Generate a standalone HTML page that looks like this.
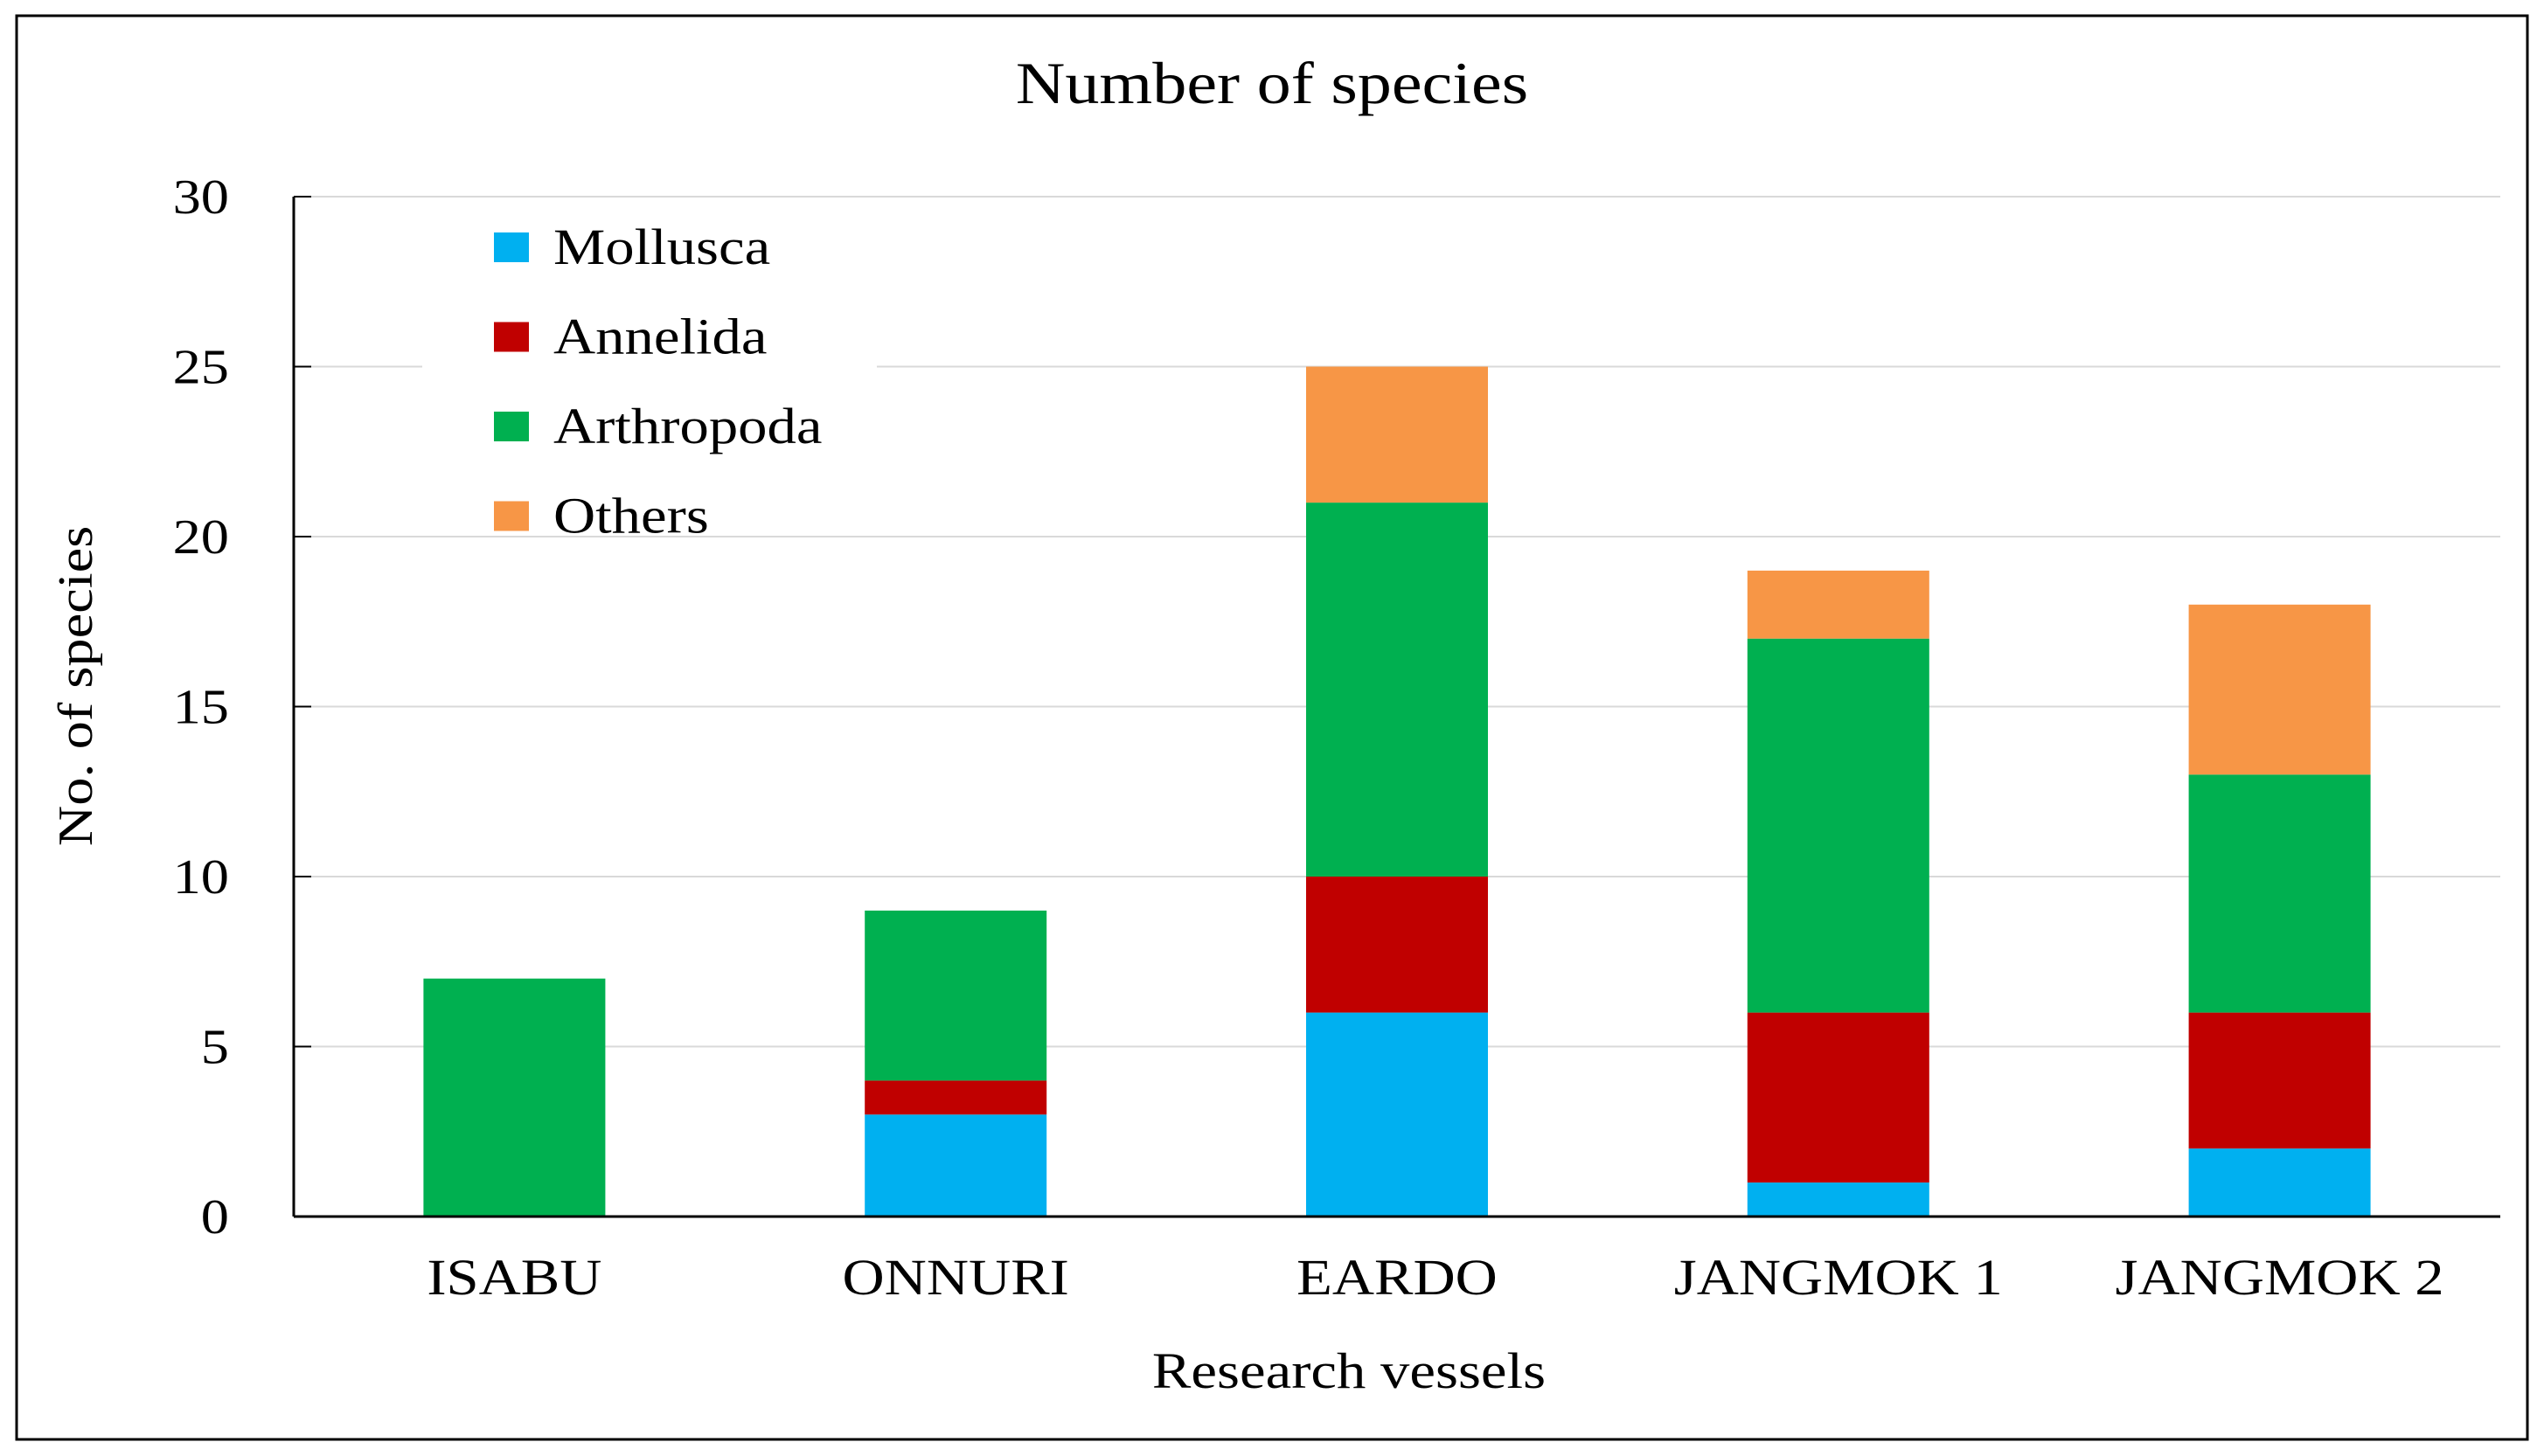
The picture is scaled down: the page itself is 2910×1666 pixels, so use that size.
<!DOCTYPE html>
<html><head><meta charset="utf-8"><style>
html,body{margin:0;padding:0;background:#fff;}
svg{display:block;font-family:"Liberation Serif",serif;}
</style></head><body>
<svg id="chart" width="2910" height="1666" xmlns="http://www.w3.org/2000/svg">
<rect x="19" y="18" width="2872" height="1629" fill="#fff" stroke="#000" stroke-width="3"/>
<text x="1455" y="118" font-size="68" text-anchor="middle">Number of species</text>
<g id="grid"></g>
<g id="bars"></g>
<g id="axes"></g>
<text transform="translate(105,785) rotate(-90)" font-size="56" text-anchor="middle">No. of species</text>
<text x="1543" y="1588" font-size="58" text-anchor="middle">Research vessels</text>
<g id="legend"></g>
</svg>
<script>
const categories = ["ISABU","ONNURI","EARDO","JANGMOK 1","JANGMOK 2"];
const seriesNames = ["Mollusca","Annelida","Arthropoda","Others"];
const mollusca = [0,3,6,1,2];
const annelida = [0,1,4,5,4];
const arthropoda = [7,5,11,11,7];
const others = [0,0,4,2,5];
const yTicks = [0,5,10,15,20,25,30];
const colors = ["#00b0f0","#c00000","#00b050","#f79646"];
const series = [mollusca, annelida, arthropoda, others];
const NS="http://www.w3.org/2000/svg";
const L=336,R=2860,T=225,B=1392,YMAX=30;
const y=v=>B-(v/YMAX)*(B-T);
const band=(R-L)/categories.length;
const xc=i=>L+band*(i+0.5);
const BW=208;
function mk(tag,attrs,parent){const e=document.createElementNS(NS,tag);for(const k in attrs)e.setAttribute(k,attrs[k]);parent.appendChild(e);return e;}
const grid=document.getElementById('grid'),bars=document.getElementById('bars'),axes=document.getElementById('axes'),legend=document.getElementById('legend');
yTicks.forEach(t=>{
  if(t>0){const g=mk('line',{x1:L,x2:R,y1:y(t),y2:y(t),stroke:'#d9d9d9','stroke-width':2},grid);
  
  }
  const tk=mk('line',{x1:L,x2:L+20,y1:y(t),y2:y(t),stroke:'#000','stroke-width':2},axes);
  
  
  const lb=mk('text',{x:262,y:y(t)+19,'font-size':56,'text-anchor':'end'},axes);
  lb.textContent=t;
  
  
});
categories.forEach((c,i)=>{
  let base=0;
  series.forEach((s,k)=>{
    const v=s[i];
    if(v>0){
      const r=mk('rect',{x:xc(i)-BW/2,y:y(base+v),width:BW,height:y(base)-y(base+v),fill:colors[k]},bars);
      
      
    }
    base+=v;
  });
  const lb=mk('text',{x:xc(i),y:1481,'font-size':58,'text-anchor':'middle'},axes);
  lb.textContent=c;
  
  
});
const ya=mk('line',{x1:L,x2:L,y1:T,y2:B,stroke:'#000','stroke-width':3},axes);


const xa=mk('line',{x1:L,x2:R,y1:B,y2:B,stroke:'#000','stroke-width':3},axes);


const lbg=mk('rect',{x:483,y:238,width:520,height:375,fill:'#fff'},legend);


seriesNames.forEach((n,k)=>{
  const cy=283+k*102.5;
  const sw=mk('rect',{x:565,y:cy-17,width:40,height:34,fill:colors[k]},legend);
  
  
  const t=mk('text',{x:633,y:cy+19,'font-size':58},legend);
  t.textContent=n;
  
  
});
// reference glyphs are horizontally stretched ~15%
document.querySelectorAll('#chart text').forEach(t=>{
  const w=t.getComputedTextLength();
  t.setAttribute('textLength',(w*1.15).toFixed(1));
  t.setAttribute('lengthAdjust','spacingAndGlyphs');
});
</script>
</body></html>
